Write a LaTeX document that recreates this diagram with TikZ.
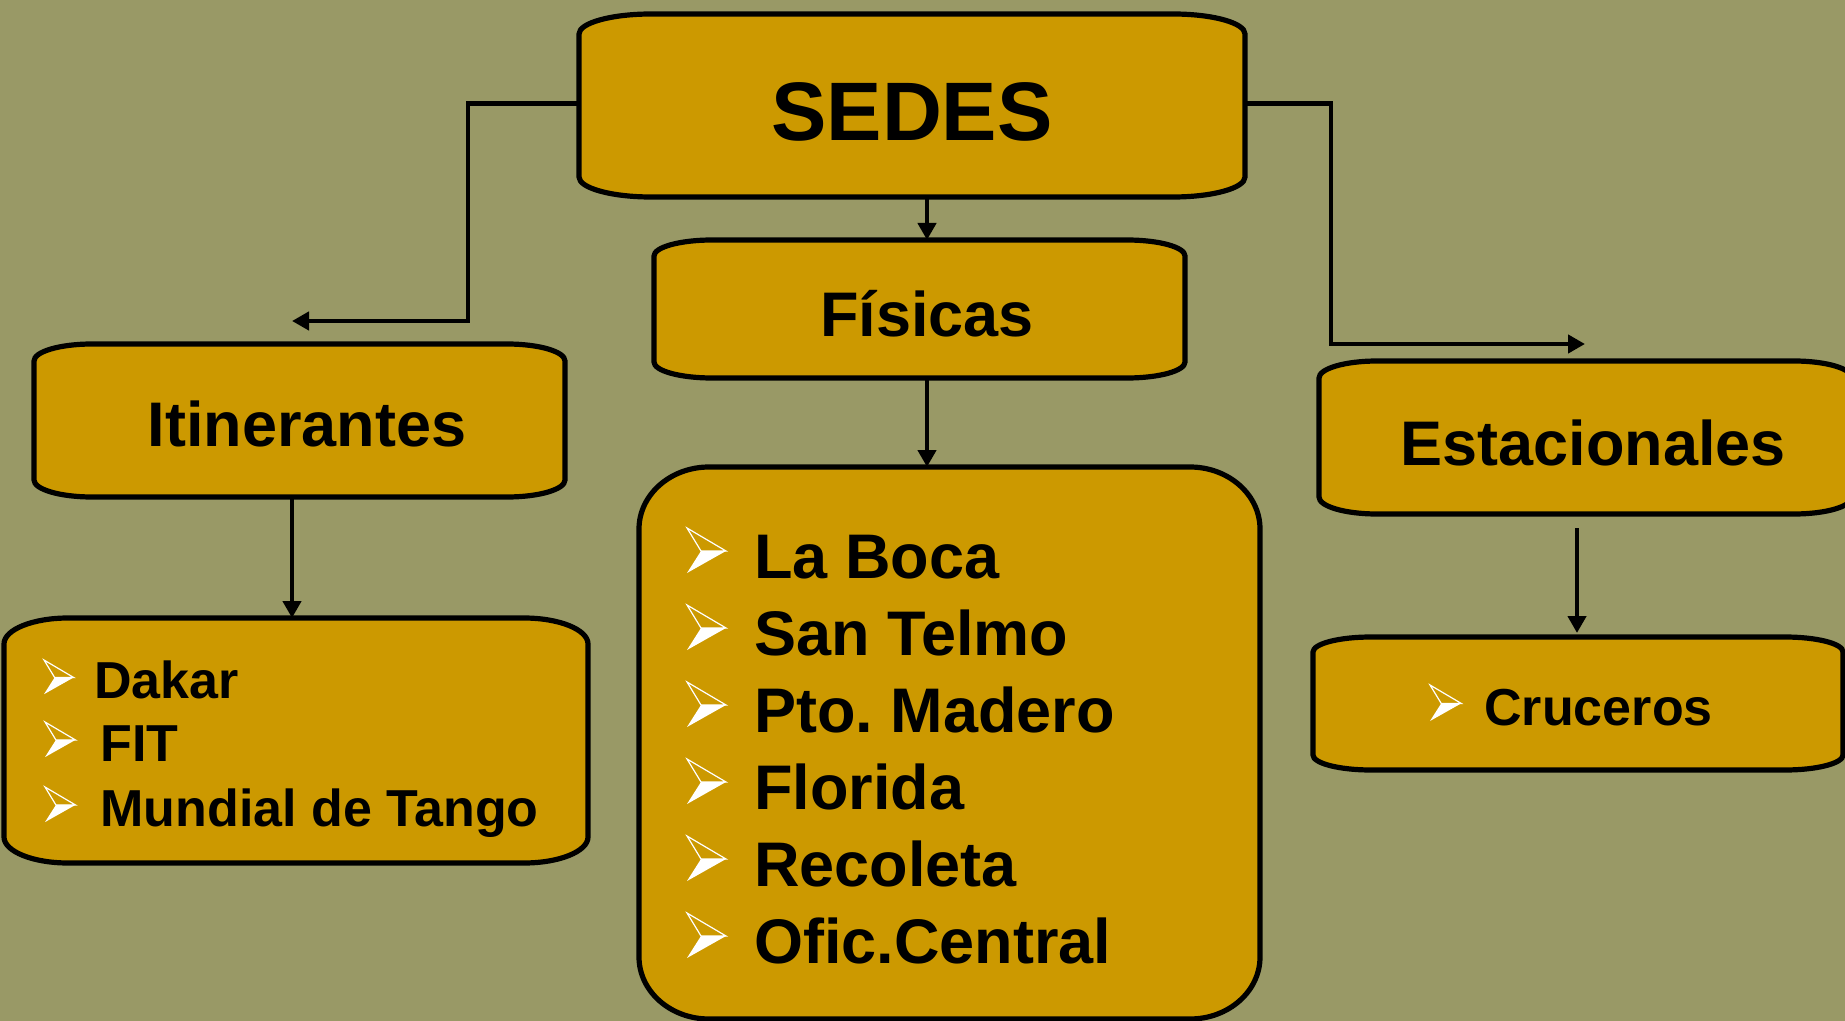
\documentclass[tikz,border=0pt]{standalone}
\usepackage{fontspec}
\setmainfont{Liberation Sans}
\frenchspacing
\usetikzlibrary{arrows.meta,backgrounds}
\definecolor{bgolive}{HTML}{999966}
\definecolor{boxgold}{HTML}{CC9900}
\newcommand\eboxdraw[3]{%
 \filldraw[boxsty] ([xshift=#2]#1.north west) -- ([xshift=-#2]#1.north east)
  arc[start angle=90,end angle=0,x radius=#2,y radius=#3]
  -- ([yshift=#3]#1.south east)
  arc[start angle=0,end angle=-90,x radius=#2,y radius=#3]
  -- ([xshift=#2]#1.south west)
  arc[start angle=270,end angle=180,x radius=#2,y radius=#3]
  -- ([yshift=-#3]#1.north west)
  arc[start angle=180,end angle=90,x radius=#2,y radius=#3] -- cycle;}
\tikzset{
 boxsty/.style={fill=boxgold,draw=black,line width=2.6pt},
 boxn/.style={draw=none,inner sep=0pt,outer sep=0pt,rectangle},
 conn/.style={draw=black,line width=2.4pt,-{Triangle[length=8.5pt,width=9pt]}},
 big/.style={inner sep=0pt,font=\bfseries\fontsize{41.5}{48}\selectfont},
 mid/.style={inner sep=0pt,font=\bfseries\fontsize{31.5}{36}\selectfont},
 small/.style={inner sep=0pt,font=\bfseries\fontsize{26}{30}\selectfont},
 arrowbul/.pic={
  \fill[white] (14,-27) -- (39,-27) -- (0,-5) -- cycle;
  \draw[white,line width=0.6pt,line join=miter] (0,-50) -- (39,-27) -- (14,-27) -- cycle;
 }
}
\begin{document}
\begin{tikzpicture}[x=0.5pt,y=-0.5pt]
\useasboundingbox (0,0) rectangle (1845,1021);
% box nodes
\node[boxn,minimum width=333pt,minimum height=91.5pt] (sedes) at (912,105.5) {};
\node[boxn,minimum width=265.5pt,minimum height=69pt] (fisicas) at (919.5,309) {};
\node[boxn,minimum width=310.5pt,minimum height=276pt] (lista) at (949.5,743) {};
\node[boxn,minimum width=265.5pt,minimum height=76.5pt] (itin) at (299.5,420.5) {};
\node[boxn,minimum width=292pt,minimum height=122.5pt] (dakar) at (296,740.5) {};
\node[boxn,minimum width=266.5pt,minimum height=76.5pt] (estac) at (1585.5,437.5) {};
\node[boxn,minimum width=265pt,minimum height=66.5pt] (cruc) at (1578,703.5) {};
% titles
\node[big,anchor=base] (tsedes) at (912,141) {SEDES};
\node[mid,anchor=base] (tfis) at (927,336) {Físicas};
\node[mid,anchor=base] (titin) at (307,446) {Itinerantes};
\node[mid,anchor=base] (testac) at (1593,465) {Estacionales};
% central list
\node[mid,anchor=base west] (l1) at (754,578) {La Boca};
\node[mid,anchor=base west] (l2) at (754,655) {San Telmo};
\node[mid,anchor=base west] (l3) at (754,732) {Pto. Madero};
\node[mid,anchor=base west] (l4) at (754,809) {Florida};
\node[mid,anchor=base west] (l5) at (754,886) {Recoleta};
\node[mid,anchor=base west] (l6) at (754,963) {Ofic.Central};
\foreach \yy in {578,655,732,809,886,963} {\pic at (687,\yy) {arrowbul};}
% itinerantes list
\node[small,anchor=base west] (d1) at (94,698) {Dakar};
\node[small,anchor=base west] (d2) at (100,761) {FIT};
\node[small,anchor=base west] (d3) at (100,826) {Mundial de Tango};
\pic[scale=0.76] at (44,698) {arrowbul};
\pic[scale=0.78] at (45,761) {arrowbul};
\pic[scale=0.78] at (45,826) {arrowbul};
% estacionales list
\node[small,anchor=base west] (c1) at (1484,725) {Cruceros};
\pic[scale=0.8] at (1430,725) {arrowbul};
% connectors
\coordinate (xc) at (927,0);
\coordinate (xl) at (292,0);
\coordinate (xr) at (1577,0);
\coordinate (lk) at (468,321);
\coordinate (lt) at (292,321);
\coordinate (rk) at (1331,344);
\coordinate (rt) at (1585,344);
\draw[conn] ([yshift=1pt]sedes.west) -| (lk) -- (lt);
\draw[conn] ([yshift=1pt]sedes.east) -| (rk) -- (rt);
\draw[conn] (sedes.south -| xc) -- (fisicas.north -| xc);
\draw[conn] (fisicas.south -| xc) -- (lista.north -| xc);
\draw[conn] (itin.south -| xl) -- (dakar.north -| xl);
\draw[conn] ([yshift=-7pt]estac.south -| xr) -- ([yshift=2pt]cruc.north -| xr);
% shapes behind
\begin{scope}[on background layer]
\fill[bgolive] (0,0) rectangle (1845,1021);
\eboxdraw{sedes}{36pt}{10pt}
\eboxdraw{fisicas}{29pt}{8pt}
\eboxdraw{lista}{35pt}{31pt}
\eboxdraw{itin}{29pt}{8.5pt}
\eboxdraw{dakar}{32pt}{13pt}
\eboxdraw{estac}{29pt}{8.5pt}
\eboxdraw{cruc}{29pt}{7.5pt}
\end{scope}
\end{tikzpicture}
\end{document}
